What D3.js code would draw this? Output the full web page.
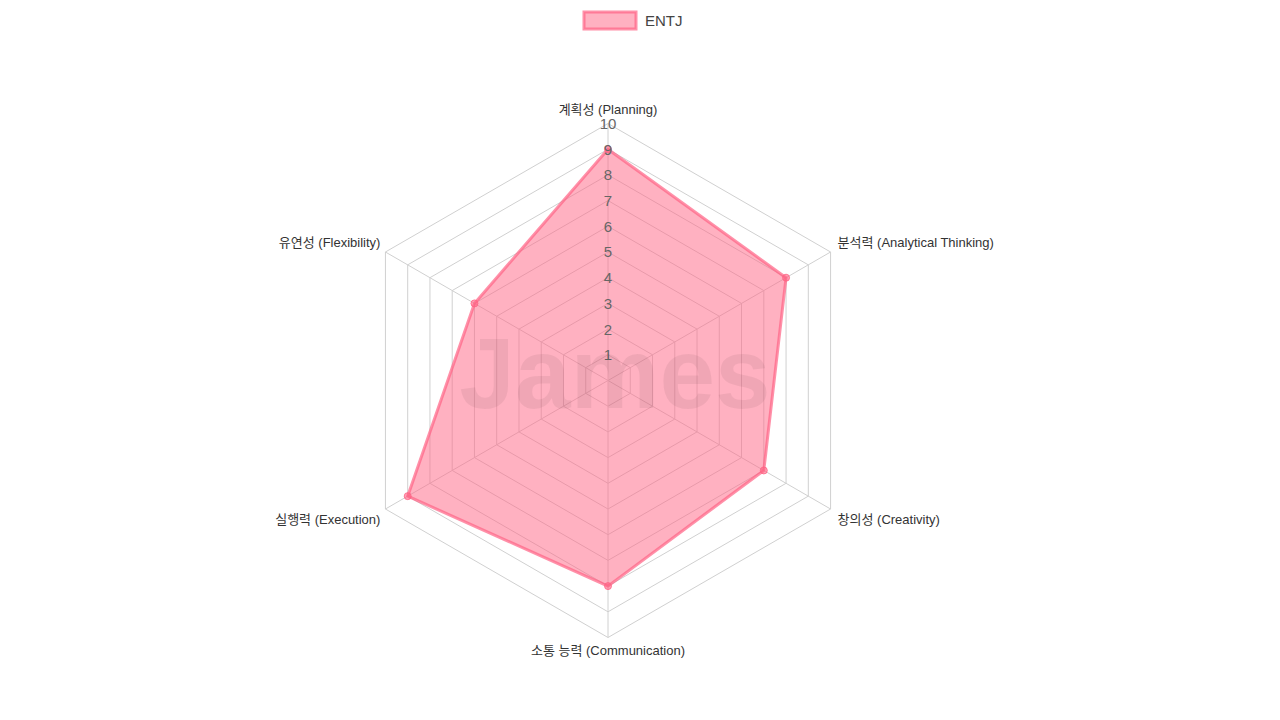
<!DOCTYPE html>
<html>
<head>
<meta charset="utf-8">
<script src="https://cdn.jsdelivr.net/npm/d3@7"></script>
<style>
  body { margin: 0; background: #fff; }
  text { font-family: "Liberation Sans", Arial, "Noto Sans CJK KR", sans-serif; }
</style>
</head>
<body>
<div id="chart"></div>
<script>
// data
var labels = ["계획성 (Planning)", "분석력 (Analytical Thinking)", "창의성 (Creativity)",
              "소통 능력 (Communication)", "실행력 (Execution)", "유연성 (Flexibility)"];
var values = [9, 8, 7, 8, 9, 6];
var seriesName = "ENTJ";
var ticks = [1, 2, 3, 4, 5, 6, 7, 8, 9, 10];

var width = 1280, height = 720;
var cx = 608, cy = 380.5, radius = 257;

var svg = d3.select("#chart").append("svg")
    .attr("width", width)
    .attr("height", height);

var r = d3.scaleLinear().domain([0, 10]).range([0, radius]);
var angle = d3.scaleLinear().domain([0, labels.length]).range([0, 2 * Math.PI]);

function pt(i, v) {
  var a = angle(i) - Math.PI / 2;
  return [cx + r(v) * Math.cos(a), cy + r(v) * Math.sin(a)];
}

var g = svg.append("g");

// grid rings
g.selectAll(".ring")
  .data(ticks)
  .enter()
  .append("polygon")
    .attr("points", function(t) {
      return labels.map(function(d, i) { return pt(i, t).join(","); }).join(" ");
    })
    .attr("fill", "none")
    .attr("stroke", "#d0d0d0")
    .attr("stroke-width", 1);

// angle lines
g.selectAll(".spoke")
  .data(labels)
  .enter()
  .append("line")
    .attr("x1", cx).attr("y1", cy)
    .attr("x2", function(d, i) { return pt(i, 10)[0]; })
    .attr("y2", function(d, i) { return pt(i, 10)[1]; })
    .attr("stroke", "#d0d0d0")
    .attr("stroke-width", 1);

// data area
var line = d3.lineRadial()
    .angle(function(d, i) { return angle(i); })
    .radius(function(d) { return r(d); })
    .curve(d3.curveLinearClosed);

g.append("path")
    .datum(values)
    .attr("transform", "translate(" + cx + "," + cy + ")")
    .attr("d", line)
    .attr("fill", "rgba(255,99,132,0.5)")
    .attr("stroke", "rgba(255,99,132,0.7)")
    .attr("stroke-width", 3)
    .attr("stroke-linejoin", "round");

g.selectAll(".dot")
  .data(values)
  .enter()
  .append("circle")
    .attr("cx", function(d, i) { return pt(i, d)[0]; })
    .attr("cy", function(d, i) { return pt(i, d)[1]; })
    .attr("r", 3.5)
    .attr("fill", "rgba(255,99,132,0.6)")
    .attr("stroke", "rgba(255,99,132,0.8)")
    .attr("stroke-width", 1);

// tick labels
g.selectAll(".tick")
  .data(ticks)
  .enter()
  .append("text")
    .attr("x", cx)
    .attr("y", function(t) { return cy - r(t); })
    .attr("dy", "0.36em")
    .attr("text-anchor", "middle")
    .attr("font-size", "15px")
    .attr("fill", "#666")
    .text(function(t) { return t; });

// point labels
g.selectAll(".plabel")
  .data(labels)
  .enter()
  .append("text")
    .attr("x", function(d, i) {
      var p = pt(i, 10);
      if (i === 0 || i === 3) return p[0];
      return i < 3 ? p[0] + 7 : p[0] - 5;
    })
    .attr("y", function(d, i) {
      var p = pt(i, 10);
      if (i === 0) return p[1] - 14;
      if (i === 3) return p[1] + 13;
      return i === 1 || i === 5 ? p[1] - 10 : p[1] + 10;
    })
    .attr("dy", "0.36em")
    .attr("text-anchor", function(d, i) {
      if (i === 0 || i === 3) return "middle";
      return i < 3 ? "start" : "end";
    })
    .attr("font-size", "13px")
    .attr("fill", "#333")
    .text(function(d) { return d; });

// watermark
svg.append("text")
    .attr("x", 615)
    .attr("y", 408)
    .attr("text-anchor", "middle")
    .attr("font-size", "100px")
    .attr("font-weight", "bold")
    .attr("fill", "rgba(0,0,0,0.06)")
    .text("James");

// legend
var legend = svg.append("g");
legend.append("rect")
    .attr("x", 584).attr("y", 12)
    .attr("width", 52).attr("height", 17)
    .attr("fill", "rgba(255,99,132,0.5)")
    .attr("stroke", "rgba(255,99,132,0.7)")
    .attr("stroke-width", 3);
legend.append("text")
    .attr("x", 645).attr("y", 21)
    .attr("dy", "0.36em")
    .attr("font-size", "15px")
    .attr("fill", "#444")
    .text(seriesName);
</script>
</body>
</html>
